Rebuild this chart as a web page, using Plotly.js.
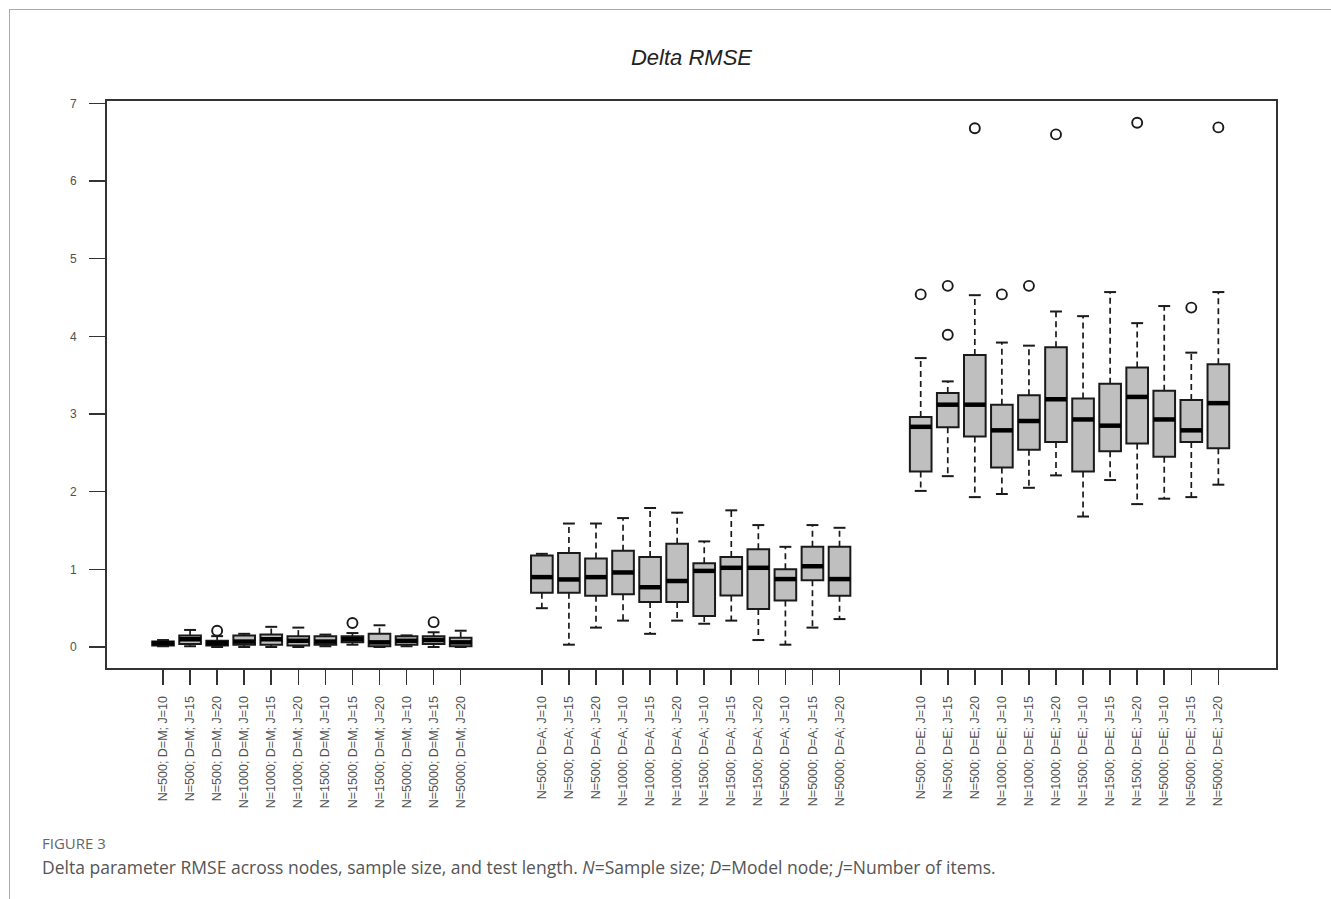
<!DOCTYPE html>
<html>
<head>
<meta charset="utf-8">
<script src="https://cdn.plot.ly/plotly-3.0.1.min.js"></script>
<style>
  html, body { margin: 0; padding: 0; background: #fff; }
  #wrap { position: relative; width: 1331px; height: 899px; overflow: hidden; }
  #frame { position: absolute; left: 9px; top: 9px; right: -5px; bottom: -5px;
           border-top: 1.5px solid #aaaaaa; border-left: 1.5px solid #aaaaaa; pointer-events: none; }
  #chart { position: absolute; left: 0; top: 0; width: 1331px; height: 899px; }
</style>
</head>
<body>
<div id="wrap">
  <div id="chart"></div>
  <div id="frame"></div>
</div>
<script>
// ---- Data ----
const positions = [1,2,3,4,5,6,7,8,9,10,11,12,
                   15,16,17,18,19,20,21,22,23,24,25,26,
                   29,30,31,32,33,34,35,36,37,38,39,40];

const tickLabels = [
  "N=500; D=M; J=10","N=500; D=M; J=15","N=500; D=M; J=20",
  "N=1000; D=M; J=10","N=1000; D=M; J=15","N=1000; D=M; J=20",
  "N=1500; D=M; J=10","N=1500; D=M; J=15","N=1500; D=M; J=20",
  "N=5000; D=M; J=10","N=5000; D=M; J=15","N=5000; D=M; J=20",
  "N=500; D=A; J=10","N=500; D=A; J=15","N=500; D=A; J=20",
  "N=1000; D=A; J=10","N=1000; D=A; J=15","N=1000; D=A; J=20",
  "N=1500; D=A; J=10","N=1500; D=A; J=15","N=1500; D=A; J=20",
  "N=5000; D=A; J=10","N=5000; D=A; J=15","N=5000; D=A; J=20",
  "N=500; D=E; J=10","N=500; D=E; J=15","N=500; D=E; J=20",
  "N=1000; D=E; J=10","N=1000; D=E; J=15","N=1000; D=E; J=20",
  "N=1500; D=E; J=10","N=1500; D=E; J=15","N=1500; D=E; J=20",
  "N=5000; D=E; J=10","N=5000; D=E; J=15","N=5000; D=E; J=20"
];

const lowerWhisker = [
  0.01,0.01,0.00,0.00,0.00,0.00,0.01,0.03,0.00,0.01,0.00,0.00,
  0.50,0.03,0.25,0.34,0.17,0.34,0.30,0.34,0.09,0.03,0.25,0.36,
  2.01,2.20,1.93,1.97,2.05,2.21,1.68,2.15,1.84,1.91,1.93,2.09
];
const q1 = [
  0.02,0.04,0.02,0.03,0.03,0.02,0.03,0.06,0.01,0.03,0.04,0.01,
  0.70,0.70,0.66,0.68,0.58,0.58,0.40,0.665,0.49,0.60,0.86,0.66,
  2.26,2.83,2.71,2.31,2.54,2.64,2.26,2.52,2.62,2.45,2.64,2.56
];
const median = [
  0.05,0.10,0.05,0.07,0.10,0.08,0.07,0.10,0.06,0.08,0.09,0.06,
  0.90,0.87,0.90,0.96,0.77,0.85,0.98,1.02,1.02,0.875,1.04,0.875,
  2.835,3.12,3.12,2.79,2.91,3.19,2.93,2.85,3.22,2.93,2.79,3.14
];
const q3 = [
  0.07,0.15,0.08,0.15,0.16,0.14,0.14,0.14,0.17,0.14,0.14,0.12,
  1.18,1.21,1.14,1.24,1.16,1.33,1.08,1.16,1.26,1.00,1.29,1.29,
  2.96,3.27,3.76,3.12,3.24,3.86,3.20,3.39,3.60,3.30,3.18,3.64
];
const upperWhisker = [
  0.09,0.22,0.14,0.17,0.26,0.25,0.16,0.18,0.28,0.15,0.19,0.21,
  1.20,1.59,1.59,1.66,1.79,1.73,1.36,1.76,1.57,1.29,1.57,1.535,
  3.72,3.42,4.53,3.92,3.88,4.32,4.26,4.57,4.17,4.39,3.79,4.57
];

// outliers: position and value
const outlierPos = [3, 8, 11, 29, 30, 30, 31, 32, 33, 34, 37, 39, 40];
const outlierVal = [0.21, 0.31, 0.32, 4.54, 4.65, 4.02, 6.68, 4.54, 4.65, 6.60, 6.75, 4.37, 6.69];

// ---- Build traces ----
const BOXW = 0.8;
const CAPW = 0.44;

const boxTrace = {
  type: 'box',
  x: positions,
  q1: q1, median: median, q3: q3,
  lowerfence: q1, upperfence: q3,
  width: BOXW,
  whiskerwidth: 0,
  boxpoints: false,
  fillcolor: '#bfbfbf',
  line: { color: '#1a1a1a', width: 2 },
  hoverinfo: 'skip'
};

const wx = [], wy = [], cx = [], cy = [], mx = [], my = [];
for (let i = 0; i < positions.length; i++) {
  const p = positions[i];
  wx.push(p, p, null, p, p, null);
  wy.push(q3[i], upperWhisker[i], null, q1[i], lowerWhisker[i], null);
  cx.push(p - CAPW/2, p + CAPW/2, null, p - CAPW/2, p + CAPW/2, null);
  cy.push(upperWhisker[i], upperWhisker[i], null, lowerWhisker[i], lowerWhisker[i], null);
  mx.push(p - BOXW/2, p + BOXW/2, null);
  my.push(median[i], median[i], null);
}

const whiskers = {
  type: 'scatter', mode: 'lines', x: wx, y: wy,
  line: { color: '#1a1a1a', width: 1.7, dash: '6px,4px' },
  hoverinfo: 'skip'
};
const caps = {
  type: 'scatter', mode: 'lines', x: cx, y: cy,
  line: { color: '#1a1a1a', width: 2 },
  hoverinfo: 'skip'
};
const medians = {
  type: 'scatter', mode: 'lines', x: mx, y: my,
  line: { color: '#000000', width: 4.5 },
  hoverinfo: 'skip'
};
const outliers = {
  type: 'scatter', mode: 'markers', x: outlierPos, y: outlierVal,
  marker: { symbol: 'circle-open', size: 10, color: '#1a1a1a', line: { width: 1.9, color: '#1a1a1a' } },
  hoverinfo: 'skip'
};

// ---- Layout ----
const W = 1331, H = 899;
const mL = 107, mR = 55, mT = 101, mB = 231;
const pw = W - mL - mR, ph = H - mT - mB;
const px = v => (v - mL) / pw;
const py = v => (H - mB - v) / ph;

const layout = {
  width: W, height: H,
  margin: { l: mL, r: mR, t: mT, b: mB, pad: 0 },
  paper_bgcolor: 'rgba(0,0,0,0)',
  plot_bgcolor: 'rgba(0,0,0,0)',
  showlegend: false,
  hovermode: false,
  title: {
    text: 'Delta RMSE',
    x: 0.5, xref: 'paper', xanchor: 'center',
    y: 1 - 57 / H, yref: 'container', yanchor: 'middle',
    font: { family: 'Liberation Sans, Arial, sans-serif', size: 22, style: 'italic', color: '#222222' }
  },
  xaxis: {
    range: [-1.07, 42.13],
    tickmode: 'array', tickvals: positions, ticktext: tickLabels,
    tickangle: -90,
    ticks: 'outside', ticklen: 15, tickwidth: 1.6, tickcolor: '#333333',
    ticklabelstandoff: 6,
    showline: true, linecolor: '#333333', linewidth: 2, mirror: true,
    showgrid: false, zeroline: false,
    tickfont: { family: 'Liberation Sans, Arial, sans-serif', size: 12.5, color: '#505050' }
  },
  yaxis: {
    range: [-0.27, 7.03],
    tickmode: 'array', tickvals: [0,1,2,3,4,5,6,7], ticktext: ['0','1','2','3','4','5','6','7'],
    ticks: 'outside', ticklen: 16, tickwidth: 1.6, tickcolor: '#333333',
    ticklabelstandoff: 10,
    showline: true, linecolor: '#333333', linewidth: 2, mirror: true,
    showgrid: false, zeroline: false,
    tickfont: { family: 'Liberation Sans, Arial, sans-serif', size: 12, color: '#505050' }
  },
  annotations: [
    {
      text: 'FIGURE 3', xref: 'paper', yref: 'paper',
      x: px(40), y: py(843), xanchor: 'left', yanchor: 'middle', showarrow: false,
      font: { family: 'Open Sans, Noto Sans, sans-serif', size: 15, color: '#666666' }
    },
    {
      text: 'Delta parameter RMSE across nodes, sample size, and test length. <i>N</i>=Sample size; <i>D</i>=Model node; <i>J</i>=Number of items.',
      xref: 'paper', yref: 'paper',
      x: px(40), y: py(867), xanchor: 'left', yanchor: 'middle', showarrow: false,
      font: { family: 'Open Sans, Noto Sans, sans-serif', size: 17.5, color: '#555555' }
    }
  ]
};

Plotly.newPlot('chart', [boxTrace, whiskers, caps, medians, outliers], layout, { displayModeBar: false, staticPlot: true });
</script>
</body>
</html>
